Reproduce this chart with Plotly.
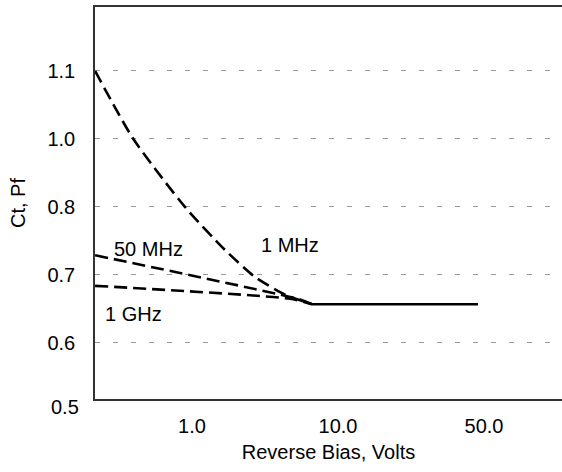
import numpy as np
import plotly.graph_objects as go

# ── data (read off the printed scales; x on a log axis) ──────────────────────
# y tick labels as printed: the scale skips 0.9, so the top two gridlines
# carry the labels "1.0" and "1.1"
Y_TICKS = [0.6, 0.7, 0.8, 0.9, 1.0]
Y_TICK_TEXT = ["0.6", "0.7", "0.8", "1.0", "1.1"]

X_TICKS = [1, 10, 100]
X_TICK_TEXT = ["1.0", "10.0", "50.0"]

mhz1_x = [0.217, 0.394, 0.895, 1.68, 2.70, 4.34, 6.64]
mhz1_y = [1.0, 0.901, 0.80, 0.737, 0.697, 0.671, 0.657]

mhz50_x = [0.217, 5.49, 6.64]
mhz50_y = [0.729, 0.664, 0.657]

ghz1_x = [0.217, 4.69, 6.64]
ghz1_y = [0.684, 0.665, 0.657]

flat_x = [6.64, 91]
flat_y = [0.657, 0.657]

labels = ["50 MHz", "1 MHz", "1 GHz"]
label_x = [0.50, 4.69, 0.40]
label_y = [0.738, 0.744, 0.6426]

FONT = "Liberation Sans, Arial, Helvetica, sans-serif"
DASH = "13px,6px"
FS = 20

fig = go.Figure()

for xs, ys in [(mhz1_x, mhz1_y), (mhz50_x, mhz50_y), (ghz1_x, ghz1_y)]:
    fig.add_trace(go.Scatter(
        x=xs, y=ys, mode="lines",
        line=dict(color="black", width=2.6, dash=DASH, shape="spline", smoothing=0.6),
        showlegend=False,
    ))

fig.add_trace(go.Scatter(
    x=flat_x, y=flat_y, mode="lines",
    line=dict(color="black", width=2.6),
    showlegend=False,
))

# curve labels (annotation x on a log axis is given in log10 units)
for txt, xv, yv in zip(labels, label_x, label_y):
    fig.add_annotation(x=np.log10(xv), y=yv, xref="x", yref="y", text=txt,
                       showarrow=False, font=dict(size=FS, color="black"))

# bottom "0.5" label sits just under the frame
fig.add_annotation(x=0, y=-0.02, xref="paper", yref="paper", text="0.5", showarrow=False,
                   xanchor="right", yanchor="middle", xshift=-14,
                   font=dict(size=FS, color="black"))

fig.update_layout(
    width=562, height=472,
    margin=dict(l=95, r=0, t=7, b=73),
    paper_bgcolor="white",
    plot_bgcolor="white",
    font=dict(family=FONT, size=FS, color="black"),
    showlegend=False,
)

fig.update_xaxes(
    type="log",
    range=[-0.664, 2.534],
    tickvals=X_TICKS, ticktext=X_TICK_TEXT,
    showgrid=False, zeroline=False,
    showline=True, linecolor="#333", linewidth=1.5, mirror=True,
    ticks="", ticklabelstandoff=8,
    title=dict(text="Reverse Bias, Volts", standoff=9, font=dict(size=FS)),
)
fig.update_yaxes(
    range=[0.5176, 1.094],
    tickvals=Y_TICKS, ticktext=Y_TICK_TEXT,
    showgrid=True, gridcolor="#999", gridwidth=1, griddash="5px,13px",
    zeroline=False,
    showline=True, linecolor="#333", linewidth=1.5,
    ticks="", ticklabelstandoff=14,
    title=dict(text="Ct, Pf", standoff=16, font=dict(size=FS)),
)

# drop the default 8px page margin so the figure fills the window exactly
fig.write_html("out.html", config={"displayModeBar": False},
               post_script="document.body.style.margin='0';document.body.style.overflow='hidden';")
